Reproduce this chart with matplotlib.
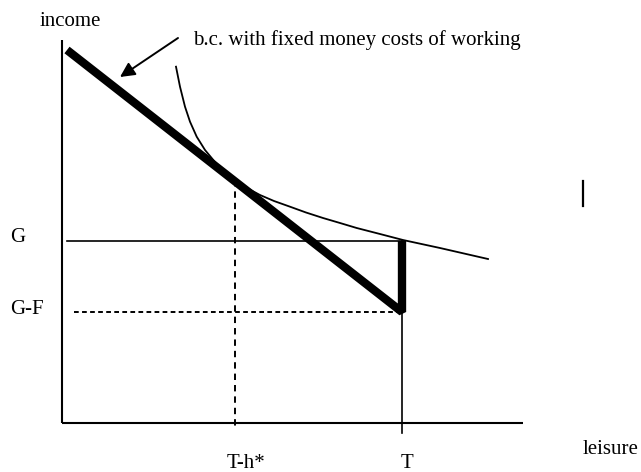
import matplotlib
matplotlib.use("Agg")
import matplotlib.pyplot as plt

plt.rcParams['font.family'] = ['Liberation Serif', 'DejaVu Serif']
plt.rcParams['lines.scale_dashes'] = False

# ---- data (units: leisure / income in arbitrary diagram units) ----
T = 34.0
T_minus_h = 17.3
G = 18.2
G_minus_F = 11.1
x_axis_end = 46.1
y_axis_top = 38.3

budget_x = [0.5, T, T]
budget_y = [37.3, G_minus_F, G]

curve_x = [11.4, 11.8, 12.3, 12.8, 13.47, 14.3, 15.13, 15.8, 16.5, 17.3, 18.5, 19.8, 21.2,
           22.8, 24.4, 26.1, 27.8, 29.47, 31.8, 34.1, 37.8, 42.6]
curve_y = [35.63, 33.63, 31.63, 30.13, 28.63, 27.3, 26.3, 25.5, 24.85, 24.3, 23.5, 22.8, 22.2,
           21.63, 21.05, 20.5, 20.0, 19.5, 18.9, 18.3, 17.5, 16.4]

tangent_y = 24.3
G_line_start = 0.5
GF_line_start = 1.2

arrow_tail = (11.6, 38.5)
arrow_head = (5.8, 34.6)

stray_x = 52.1
stray_y = [21.7, 24.2]

fig = plt.figure(figsize=(6.41, 4.72), dpi=100)
ax = fig.add_axes([0, 0, 1, 1])
ax.set_xlim(-6.2, 57.9)
ax.set_ylim(-4.9, 42.3)
ax.axis('off')

k = 'black'
# axes
ax.plot([0, 0], [0, y_axis_top], color=k, lw=1.5, solid_capstyle='butt')
ax.plot([0, x_axis_end], [0, 0], color=k, lw=1.5, solid_capstyle='butt')

# G line (solid) and G-F line (dashed)
ax.plot([G_line_start, T], [G, G], color=k, lw=1.2)
ax.plot([GF_line_start, T], [G_minus_F, G_minus_F], color=k, lw=1.4, dashes=(3.4, 2.4))

# T vertical thin line extending below axis
ax.plot([T, T], [G, -1.0], color=k, lw=1.2)
# T-h* dashed vertical
ax.plot([T_minus_h, T_minus_h], [tangent_y, -0.4], color=k, lw=1.4, dashes=(4.6, 3.6))

# indifference curve
ax.plot(curve_x, curve_y, color=k, lw=1.3, solid_joinstyle='round')

# budget constraint (thick)
ax.plot(budget_x, budget_y, color=k, lw=6, solid_capstyle='butt', solid_joinstyle='bevel')

# arrow
ax.annotate('', xy=arrow_head, xytext=arrow_tail,
            arrowprops=dict(arrowstyle='-|>', color=k, lw=1.4, mutation_scale=22,
                            shrinkA=0, shrinkB=0))

# stray mark
ax.plot([stray_x, stray_x], stray_y, color=k, lw=1.6)

fs = 15
ax.text(-2.2, 40.1, 'income', fontsize=fs, ha='left', va='center')
ax.text(13.1, 38.3, 'b.c. with fixed money costs of working', fontsize=fs, ha='left', va='center')
ax.text(-5.2, 18.5, 'G', fontsize=fs, ha='left', va='center')
ax.text(-5.2, 11.3, 'G-F', fontsize=fs, ha='left', va='center')
ax.text(T_minus_h + 1.1, -4.0, 'T-h*', fontsize=fs, ha='center', va='center')
ax.text(T + 0.5, -4.0, 'T', fontsize=fs, ha='center', va='center')
ax.text(52.1, -2.7, 'leisure', fontsize=fs, ha='left', va='center')

fig.savefig('out.png', dpi=100)
